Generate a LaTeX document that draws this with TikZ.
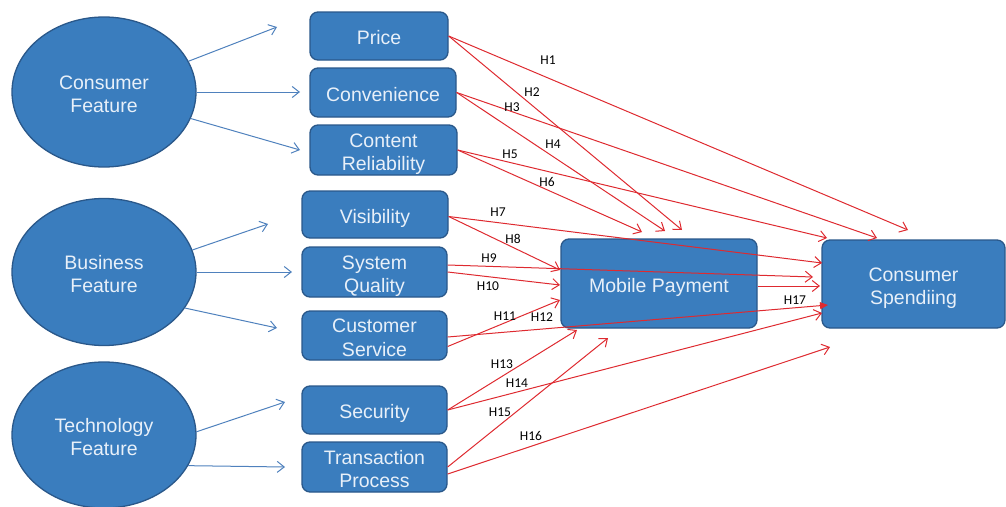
\documentclass[tikz,border=0pt]{standalone}
\usepackage{fontspec}
\setmainfont{Liberation Sans}
\newfontfamily\labelfont{Carlito}
\usetikzlibrary{arrows.meta,shapes.geometric}
\definecolor{boxfill}{RGB}{58,125,190}
\definecolor{boxline}{RGB}{42,88,138}
\definecolor{boxtext}{RGB}{232,240,249}
\definecolor{featarrow}{RGB}{79,129,189}
\definecolor{hypred}{RGB}{222,42,48}
% box captions placed by their baselines, independent of the letters used
\newcommand\oneline[1]{\raisebox{-8.5pt}[0pt][0pt]{#1}}
\newcommand\twolines[2]{\raisebox{3pt}[0pt][0pt]{\begin{tabular}[t]{@{}c@{}}#1\\#2\end{tabular}}}
\tikzset{
  x=1pt, y=-1pt,
  box/.style={draw=boxline, line width=1.3pt, fill=boxfill, rounded corners=8pt,
    text=boxtext, align=center, inner sep=0pt,
    font=\fontsize{19.5}{23.5}\selectfont},
  feature/.style={ellipse, draw=boxline, line width=1.3pt, fill=boxfill,
    text=boxtext, align=center, inner sep=0pt,
    font=\fontsize{19.5}{23.5}\selectfont},
  featlink/.style={draw=featarrow, line width=1pt, -{Straight Barb[length=7pt,width=11pt]}},
  hyp/.style={draw=hypred, line width=1pt, -{Straight Barb[length=7pt,width=11pt]}},
  hlabel/.style={font=\labelfont\fontsize{13.5}{15}\selectfont, text=black, inner sep=0pt},
}
\begin{document}
\begin{tikzpicture}
\useasboundingbox (0,0) rectangle (1006,506);

% feature ellipses
\node[feature, minimum width=184pt, minimum height=150pt] (cf) at (104,92) {\twolines{Consumer}{Feature}};
\node[feature, minimum width=184pt, minimum height=147pt] (bf) at (104,272) {\twolines{Business}{Feature}};
\node[feature, minimum width=184pt, minimum height=146pt] (tf) at (104,435) {\twolines{Technology}{Feature}};

% factor boxes
\node[box, minimum width=138pt, minimum height=48pt] (price) at (379,36) {\oneline{Price}};
\node[box, minimum width=146pt, minimum height=49pt] (conv) at (383,92.5) {\oneline{Convenience}};
\node[box, minimum width=147pt, minimum height=50pt] (rel) at (383.5,150) {\twolines{Content}{Reliability}};
\node[box, minimum width=146pt, minimum height=47pt] (vis) at (375,214.5) {\oneline{Visibility}};
\node[box, minimum width=145pt, minimum height=50pt] (sq) at (374.5,272) {\twolines{System}{Quality}};
\node[box, minimum width=145pt, minimum height=49pt] (cs) at (374.5,335.5) {\twolines{Customer}{Service}};
\node[box, minimum width=145pt, minimum height=48pt] (sec) at (374.5,410) {\oneline{Security}};
\node[box, minimum width=145pt, minimum height=50pt] (tp) at (374.5,467) {\twolines{Transaction}{Process}};

% outcome boxes
\node[box, minimum width=196pt, minimum height=89pt] (mp) at (659,283.5) {\oneline{Mobile Payment}};
\node[box, minimum width=183pt, minimum height=88pt] (spend) at (913.5,284) {\twolines{Consumer}{Spendiing}};

% feature arrow tips
\coordinate (cf1) at (277,27);
\coordinate (cf2) at (300,92);
\coordinate (cf3) at (300,150);
\coordinate (bf1) at (268,224);
\coordinate (bf2) at (292,272);
\coordinate (bf3) at (277,328);
\coordinate (tf1) at (285,402);
\coordinate (tf2) at (285,467);

\draw[featlink] (cf.20) -- (cf1);
\draw[featlink] (cf.0) -- (cf2);
\draw[featlink] (cf.-17) -- (cf3);
\draw[featlink] (bf.14) -- (bf1);
\draw[featlink] (bf.0) -- (bf2);
\draw[featlink] (bf.-24) -- (bf3);
\draw[featlink] (tf.2) -- (tf1);
\draw[featlink] (tf.-20) -- (tf2);

% hypothesis arrow tips
\coordinate (t1) at (908,230);
\coordinate (t2) at (682,230);
\coordinate (t3) at (877,238);
\coordinate (t4) at (665,231);
\coordinate (t5) at (827,238);
\coordinate (t6) at (642,232);
\coordinate (t7) at (822,263);
\coordinate (t8) at (560,270);
\coordinate (t9) at (813,277);
\coordinate (t10) at (560,285);
\coordinate (t11) at (560,300);
\coordinate (t12) at (828,305);
\coordinate (t13) at (577,330);
\coordinate (t14) at (822,313);
\coordinate (t15) at (608,338);
\coordinate (t16) at (830,347);
\coordinate (t17) at (820,286);

\draw[hyp] (price.east) -- (t1);
\draw[hyp] (price.east) -- (t2);
\draw[hyp] (conv.east) -- (t3);
\draw[hyp] (conv.east) -- (t4);
\draw[hyp] (rel.east) -- (t5);
\draw[hyp] (rel.east) -- (t6);
\draw[hyp] ([yshift=-2pt]vis.east) -- (t7);
\draw[hyp] ([yshift=-2pt]vis.east) -- (t8);
\draw[hyp] ([yshift=7pt]sq.east) -- (t9);
\draw[hyp] (sq.east) -- (t10);
\draw[hyp] ([yshift=-11pt]cs.east) -- (t11);
\draw[draw=hypred, line width=1pt, -{Triangle[length=8pt,width=7pt]}] ([yshift=-1.5pt]cs.east) -- (t12);
\draw[hyp] (sec.east) -- (t13);
\draw[hyp] (sec.east) -- (t14);
\draw[hyp] (tp.east) -- (t15);
\draw[hyp] ([yshift=-7pt]tp.east) -- (t16);
\draw[hyp] ([yshift=-2.5pt]mp.east) -- (t17);

% hypothesis labels
\node[hlabel] (h1) at (548,60) {H1};
\node[hlabel] (h2) at (532,92) {H2};
\node[hlabel] (h3) at (512,107) {H3};
\node[hlabel] (h4) at (553,144) {H4};
\node[hlabel] (h5) at (510,154) {H5};
\node[hlabel] (h6) at (547,182) {H6};
\node[hlabel] (h7) at (498,212) {H7};
\node[hlabel] (h8) at (513,239) {H8};
\node[hlabel] (h9) at (489,258) {H9};
\node[hlabel] (h10) at (488,286) {H10};
\node[hlabel] (h11) at (505,316) {H11};
\node[hlabel] (h12) at (542,317) {H12};
\node[hlabel] (h13) at (502,364) {H13};
\node[hlabel] (h14) at (517,383) {H14};
\node[hlabel] (h15) at (500,412) {H15};
\node[hlabel] (h16) at (531,436) {H16};
\node[hlabel] (h17) at (795,300) {H17};
\end{tikzpicture}
\end{document}
